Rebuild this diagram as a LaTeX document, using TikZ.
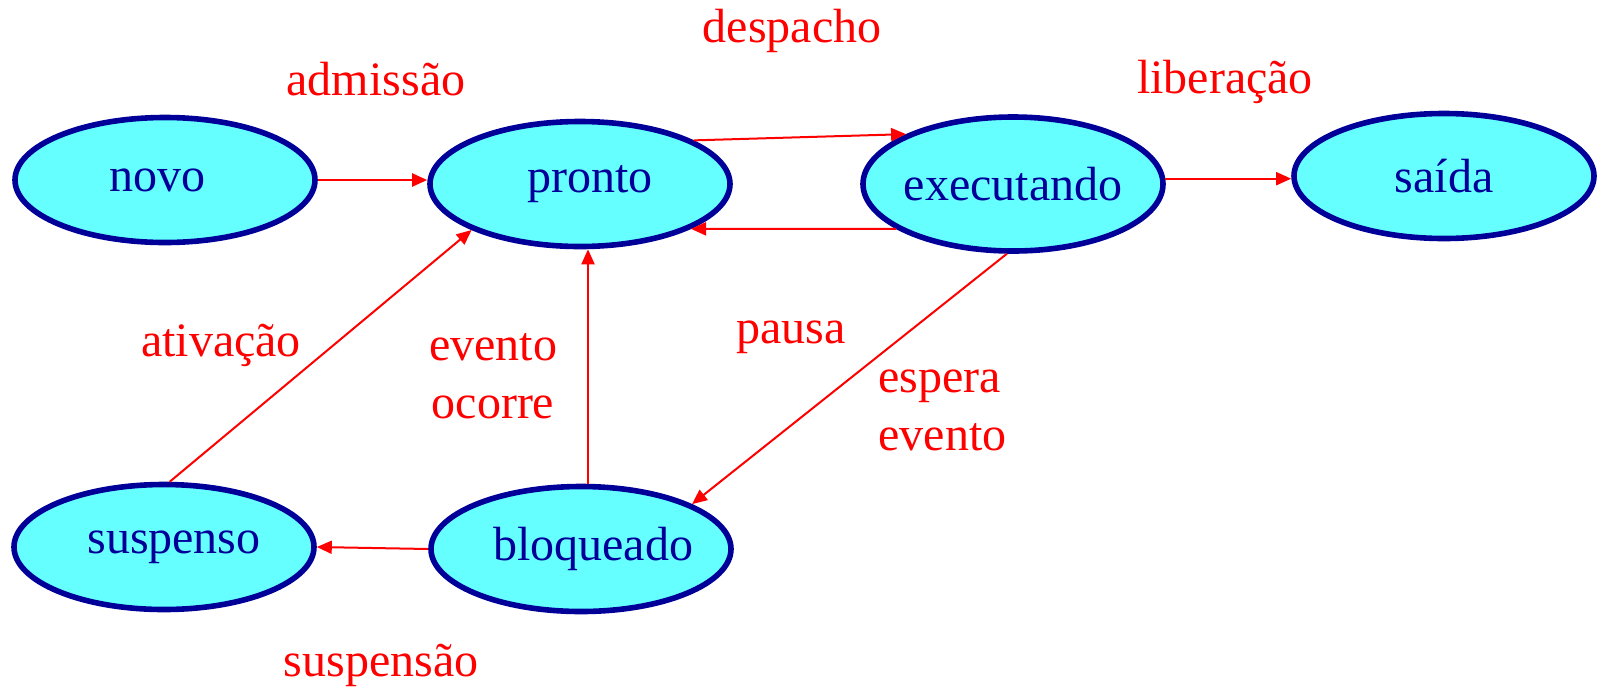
\documentclass[tikz,border=0pt]{standalone}
\usepackage{fontspec}
\setmainfont{Liberation Serif}
\usetikzlibrary{shapes.geometric,arrows.meta}
\definecolor{estfill}{HTML}{66FFFF}
\definecolor{estline}{HTML}{000099}
\tikzset{
  estado/.style={ellipse, draw=estline, line width=2.8pt, fill=estfill, text=estline,
    inner xsep=-15pt, inner ysep=0pt, minimum width=150pt, minimum height=62.5pt,
    font=\fontsize{24}{29}\selectfont},
  trans/.style={red, line width=1pt, -{Triangle[length=7.5pt,width=6.5pt]}},
  rotulo/.style={red, inner sep=0pt, font=\fontsize{24}{29}\selectfont}
}

\begin{document}
\begin{tikzpicture}[x=0.5pt,y=-0.5pt]
	\useasboundingbox (0,0) rectangle (1601,687);
	
	\node[estado] (novo) at (165,180) {novo\kern 8pt};
	\node[estado] (pronto) at (580,184) {\kern 10pt pronto};
	\node[estado, minimum height=67pt] (executando) at (1013,184) {executando};
	\node[estado] (saida) at (1444,176) {saída};
	\node[estado] (suspenso) at (164,547) {\kern 10pt suspenso};
	\node[estado] (bloqueado) at (581,549) {\kern 12pt bloqueado};
	
	\draw[trans] (novo.east) -- (novo.east -| pronto.west);
	\draw[trans] (pronto.21) -- (executando.155);
	\draw[trans] (executando.201) -- (pronto.338);
	\draw[trans] (executando.2) -- (executando.2 -| saida.west);
	\draw[trans] (executando.265) -- (bloqueado.22);
	\draw[trans] ([xshift=3.5pt]bloqueado.north) -- ([xshift=3.5pt]bloqueado.north |- pronto.south);
	\draw[trans] (bloqueado.west) -- (suspenso.east);
	\draw[trans] (suspenso.85) -- (pronto.203);
	
	\node[rotulo] (admissao) at (376,79) {admissão};
	\node[rotulo] (despacho) at (792,31) {despacho};
	\node[rotulo] (liberacao) at (1225,82) {liberação};
	\node[rotulo] (ativacao) at (221,345) {ativação};
	\node[rotulo, align=center] (ocorre) at (493,376) {evento\\ocorre};
	\node[rotulo] (pausa) at (791,337) {pausa};
	\node[rotulo, align=left, anchor=west] (espera) at (878,410) {espera\\evento};
	\node[rotulo] (suspensao) at (381,665) {suspensão};
\end{tikzpicture}
\end{document}
